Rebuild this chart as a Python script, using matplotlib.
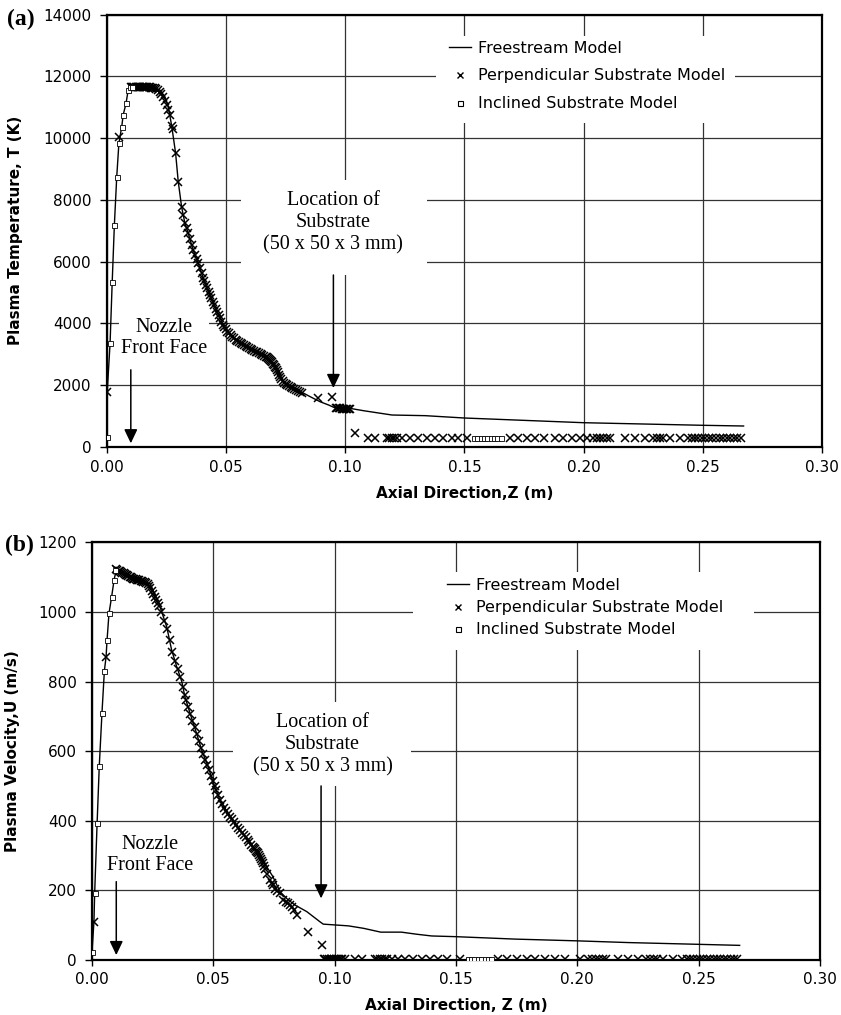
import matplotlib
matplotlib.use('Agg')
import matplotlib.pyplot as plt
from matplotlib.patches import Rectangle
from matplotlib.lines import Line2D

plt.rcParams['font.family'] = 'DejaVu Sans'

# ---------------- panel (a): plasma temperature ----------------
z_free_a = [0.0, 0.0001, 0.0013, 0.0022, 0.0031, 0.0041, 0.0050, 0.0062, 0.0068, 0.0080,
            0.0089, 0.0097, 0.0120, 0.0150, 0.0180, 0.0200, 0.0222, 0.0243, 0.0253, 0.0261,
            0.0272, 0.0288, 0.0299, 0.0313, 0.0327, 0.0341, 0.0355, 0.0369, 0.0383, 0.0397,
            0.0415, 0.0432, 0.0453, 0.0474, 0.0502, 0.0544, 0.0600, 0.0656, 0.0684, 0.0712,
            0.0743, 0.0782, 0.0823, 0.0860, 0.0894, 0.0930, 0.0958, 0.1021, 0.1077, 0.1196,
            0.1335, 0.1500, 0.2000, 0.2500, 0.2671]
T_free_a = [334, 1791, 3359, 5354, 7190, 8755, 9836, 10374, 10753, 11131,
            11563, 11650, 11660, 11660, 11650, 11620, 11563, 11346, 11132, 10860,
            10375, 9512, 8593, 7783, 7245, 6922, 6543, 6219, 5950, 5626,
            5247, 4923, 4544, 4169, 3790, 3466, 3197, 2980, 2818, 2494,
            2073, 1901, 1750, 1600, 1467, 1360, 1263, 1250, 1175, 1036,
            1015, 939, 787, 703, 680]

z_perp_a = [0.0001, 0.0052,
            0.0100, 0.0105, 0.0110, 0.0115, 0.0120, 0.0125, 0.0130, 0.0135, 0.0140, 0.0145,
            0.0150, 0.0155, 0.0160, 0.0165, 0.0170, 0.0175, 0.0180, 0.0185, 0.0190, 0.0195,
            0.0200, 0.0207, 0.0214, 0.0221, 0.0228, 0.0236, 0.0243, 0.0250, 0.0257, 0.0264,
            0.0272, 0.0275, 0.0288, 0.0299, 0.0313, 0.0320, 0.0327, 0.0334, 0.0341, 0.0348,
            0.0355, 0.0362, 0.0369, 0.0376, 0.0383, 0.0390, 0.0397, 0.0403, 0.0409, 0.0415,
            0.0421, 0.0427, 0.0432, 0.0438, 0.0444, 0.0450, 0.0456, 0.0462, 0.0468, 0.0474,
            0.0480, 0.0486, 0.0492, 0.0498, 0.0505, 0.0512, 0.0519, 0.0526, 0.0533, 0.0540,
            0.0547, 0.0554, 0.0561, 0.0568, 0.0575, 0.0582, 0.0589, 0.0596, 0.0603, 0.0610,
            0.0617, 0.0624, 0.0631, 0.0638, 0.0645, 0.0652, 0.0659, 0.0666, 0.0672, 0.0676,
            0.0680, 0.0684, 0.0688, 0.0692, 0.0696, 0.0700, 0.0704, 0.0708, 0.0712, 0.0717,
            0.0722, 0.0727, 0.0732, 0.0738, 0.0744, 0.0750, 0.0757, 0.0764, 0.0771, 0.0778,
            0.0786, 0.0794, 0.0802, 0.0810, 0.0818, 0.0887, 0.0943,
            0.0960, 0.0966, 0.0972, 0.0978, 0.0984, 0.0990, 0.0996, 0.1002, 0.1008, 0.1014,
            0.1020, 0.1041,
            0.1097, 0.1125, 0.1174, 0.1184, 0.1195, 0.1205, 0.1216, 0.1237, 0.1272, 0.1307,
            0.1342, 0.1377, 0.1411, 0.1447, 0.1474, 0.1510, 0.1691, 0.1726, 0.1761, 0.1796,
            0.1835, 0.1880, 0.1915, 0.1950, 0.1985, 0.2013, 0.2041, 0.2055, 0.2069, 0.2083,
            0.2097, 0.2111, 0.2174, 0.2216, 0.2258, 0.2292, 0.2306, 0.2320, 0.2334, 0.2363,
            0.2405, 0.2439, 0.2453, 0.2467, 0.2481, 0.2495, 0.2510, 0.2525, 0.2540, 0.2555,
            0.2570, 0.2585, 0.2600, 0.2615, 0.2630, 0.2645, 0.2660]
T_perp_a = [1791, 10050,
            11650, 11655, 11660, 11660, 11660, 11660, 11660, 11660, 11660, 11660,
            11660, 11660, 11655, 11655, 11650, 11650, 11645, 11640, 11635, 11630,
            11620, 11600, 11560, 11500, 11420, 11330, 11220, 11080, 10930, 10750,
            10380, 10300, 9510, 8590, 7780, 7500, 7250, 7080, 6920, 6730,
            6540, 6380, 6220, 6080, 5950, 5790, 5630, 5470, 5370, 5250,
            5140, 5030, 4920, 4810, 4700, 4600, 4480, 4380, 4270, 4170,
            4060, 3960, 3880, 3810, 3740, 3680, 3620, 3570, 3520, 3480,
            3440, 3400, 3370, 3330, 3300, 3270, 3240, 3210, 3180, 3150,
            3120, 3090, 3070, 3040, 3010, 2990, 2960, 2930, 2900, 2870,
            2840, 2810, 2780, 2740, 2700, 2650, 2600, 2550, 2490, 2420,
            2340, 2260, 2200, 2140, 2080, 2040, 2000, 1960, 1930, 1900,
            1870, 1840, 1800, 1770, 1750, 1577, 1610,
            1260, 1255, 1250, 1250, 1245, 1245, 1240, 1240, 1240, 1235,
            1235, 443,
            300, 300, 300, 300, 300, 300, 300, 300, 300, 300,
            300, 300, 300, 300, 300, 300, 300, 300, 300, 300,
            300, 300, 300, 300, 300, 300, 300, 300, 300, 300,
            300, 300, 300, 300, 300, 300, 300, 300, 300, 300,
            300, 300, 300, 300, 300, 300, 300, 300, 300, 300,
            300, 300, 300, 300, 300, 300, 300]

z_incl_a = [0.0, 0.0013, 0.0022, 0.0031, 0.0041, 0.0050, 0.0062, 0.0068, 0.0080, 0.0089,
            0.0097, 0.0103,
            0.1540, 0.1554, 0.1568, 0.1582, 0.1596, 0.1610, 0.1624, 0.1638, 0.1652]
T_incl_a = [334, 3359, 5354, 7190, 8755, 9836, 10374, 10753, 11131, 11563,
            11650, 11650,
            300, 300, 300, 300, 300, 300, 300, 300, 300]

# ---------------- panel (b): plasma velocity ----------------
z_free_b = [0.0, 0.0008, 0.0011, 0.0021, 0.0030, 0.0041, 0.0051, 0.0058, 0.0062, 0.0070,
            0.0081, 0.0091, 0.0100, 0.0129, 0.0157, 0.0184, 0.0211, 0.0239, 0.0260, 0.0280,
            0.0308, 0.0328, 0.0349, 0.0370, 0.0383, 0.0404, 0.0431, 0.0452, 0.0479, 0.0500,
            0.0527, 0.0569, 0.0610, 0.0665, 0.0692, 0.0720, 0.0745, 0.0775, 0.0805, 0.0836,
            0.0885, 0.0939, 0.0953, 0.1057, 0.1119, 0.1190, 0.1275, 0.1338, 0.1400, 0.1499,
            0.1744, 0.1998, 0.2212, 0.2499, 0.2669]
U_free_b = [24, 110, 192, 393, 558, 709, 831, 871, 919, 996,
            1044, 1092, 1122, 1111, 1101, 1092, 1087, 1082, 1049, 1015,
            957, 891, 843, 800, 756, 709, 651, 603, 555, 508,
            460, 412, 373, 325, 306, 268, 240, 196, 175, 158,
            139, 110, 103, 98, 91, 80, 80, 74, 69, 67,
            60, 55, 50, 45, 42]

z_perp_b = [0.0008, 0.0058,
            0.0100, 0.0105, 0.0110, 0.0115, 0.0120, 0.0125, 0.0130, 0.0135, 0.0140, 0.0145,
            0.0150, 0.0155, 0.0160, 0.0165, 0.0170, 0.0175, 0.0180, 0.0185, 0.0190, 0.0195,
            0.0200, 0.0205, 0.0211, 0.0217, 0.0223, 0.0229, 0.0235, 0.0241, 0.0247, 0.0253,
            0.0259, 0.0265, 0.0271, 0.0277, 0.0285, 0.0297, 0.0309, 0.0320, 0.0331, 0.0342,
            0.0353, 0.0364, 0.0375, 0.0383, 0.0388, 0.0396, 0.0405, 0.0414, 0.0423, 0.0432,
            0.0441, 0.0449, 0.0457, 0.0465, 0.0473, 0.0481, 0.0489, 0.0497, 0.0505, 0.0513,
            0.0521, 0.0529, 0.0537, 0.0545, 0.0553, 0.0561, 0.0569, 0.0577, 0.0585, 0.0593,
            0.0601, 0.0609, 0.0617, 0.0625, 0.0633, 0.0641, 0.0649, 0.0657, 0.0665, 0.0669,
            0.0673, 0.0677, 0.0681, 0.0685, 0.0689, 0.0693, 0.0697, 0.0701, 0.0705, 0.0709,
            0.0713, 0.0720, 0.0733, 0.0740, 0.0747, 0.0755, 0.0762, 0.0775, 0.0788, 0.0798,
            0.0809, 0.0816, 0.0823, 0.0833, 0.0843, 0.0889, 0.0946,
            0.0955, 0.0962, 0.0969, 0.0976, 0.0983, 0.0990, 0.0997, 0.1004, 0.1011, 0.1018,
            0.1025, 0.1032, 0.1042, 0.1084, 0.1111, 0.1166, 0.1176, 0.1186, 0.1196, 0.1206,
            0.1214, 0.1235, 0.1262, 0.1290, 0.1324, 0.1359, 0.1393, 0.1427, 0.1462, 0.1516,
            0.1674, 0.1709, 0.1750, 0.1791, 0.1825, 0.1866, 0.1908, 0.1949, 0.2011, 0.2045,
            0.2060, 0.2075, 0.2090, 0.2105, 0.2120, 0.2169, 0.2210, 0.2251, 0.2285, 0.2300,
            0.2315, 0.2327, 0.2354, 0.2395, 0.2430, 0.2450, 0.2465, 0.2478, 0.2492, 0.2506,
            0.2520, 0.2534, 0.2548, 0.2562, 0.2576, 0.2590, 0.2604, 0.2618, 0.2632, 0.2646,
            0.2660]
U_perp_b = [110, 871,
            1124, 1121, 1119, 1117, 1115, 1113, 1111, 1109, 1107, 1105,
            1103, 1101, 1099, 1098, 1096, 1095, 1094, 1093, 1092, 1091,
            1090, 1089, 1087, 1085, 1083, 1080, 1075, 1068, 1060, 1052,
            1044, 1035, 1025, 1018, 1000, 975, 952, 920, 885, 860,
            835, 812, 785, 760, 748, 728, 707, 688, 668, 649,
            628, 610, 592, 575, 560, 545, 530, 514, 500, 487,
            473, 460, 449, 438, 428, 420, 412, 404, 396, 388,
            380, 373, 366, 359, 352, 345, 338, 331, 325, 322,
            318, 314, 310, 306, 302, 297, 291, 285, 278, 270,
            262, 248, 230, 222, 215, 205, 198, 192, 172, 168,
            163, 158, 153, 143, 129, 81, 43,
            2, 2, 2, 2, 2, 2, 2, 2, 2, 2,
            2, 2, 2, 2, 2, 2, 2, 2, 2, 2,
            2, 2, 2, 2, 2, 2, 2, 2, 2, 2,
            2, 2, 2, 2, 2, 2, 2, 2, 2, 2,
            2, 2, 2, 2, 2, 2, 2, 2, 2, 2,
            2, 2, 2, 2, 2, 2, 2, 2, 2, 2,
            2, 2, 2, 2, 2, 2, 2, 2, 2, 2,
            2]

z_incl_b = [0.0, 0.0011, 0.0021, 0.0030, 0.0041, 0.0051, 0.0062, 0.0070, 0.0081, 0.0091,
            0.0096,
            0.1548, 0.1562, 0.1576, 0.1590, 0.1604, 0.1618, 0.1632, 0.1646]
U_incl_b = [24, 192, 393, 558, 709, 831, 919, 996, 1044, 1092,
            1120,
            2, 2, 2, 2, 2, 2, 2, 2]

x_ticks = [0.00, 0.05, 0.10, 0.15, 0.20, 0.25, 0.30]
labels = ['Freestream Model', 'Perpendicular Substrate Model', 'Inclined Substrate Model']
serif = 'Liberation Serif'


def draw_panel(ax, z_free, y_free, z_perp, y_perp, z_incl, y_incl, ymax, ystep):
    ax.plot(z_free, y_free, '-', color='black', lw=1.0, zorder=3)
    ax.plot(z_perp, y_perp, 'x', color='black', ms=5.5, mew=1.1, zorder=4)
    ax.plot(z_incl, y_incl, 's', ms=3.6, mfc='white', mec='black', mew=0.6, zorder=5)
    ax.set_xlim(0, 0.30)
    ax.set_ylim(0, ymax)
    ax.set_xticks(x_ticks)
    ax.set_xticklabels(['%.2f' % v for v in x_ticks])
    ax.set_yticks(range(0, ymax + 1, ystep))
    ax.set_axisbelow(True)
    ax.grid(True, color='0.2', lw=0.9)
    ax.tick_params(axis='y', length=5, width=1, pad=6, labelsize=11)
    ax.tick_params(axis='x', length=4, width=1, pad=5, labelsize=11)
    for s in ax.spines.values():
        s.set_linewidth(1.6)


def arrow(ax, x, y0, y1):
    ax.annotate('', xy=(x, y1), xytext=(x, y0),
                arrowprops=dict(arrowstyle='-|>,head_length=0.42,head_width=0.2',
                                color='black', lw=1.1, mutation_scale=20,
                                shrinkA=0, shrinkB=0), zorder=6)


def white_box(ax, x0, x1, y0, y1):
    ax.add_patch(Rectangle((x0, y0), x1 - x0, y1 - y0, transform=ax.transAxes,
                           facecolor='white', edgecolor='none', zorder=1))


def legend(ax, x, y, spacing):
    handles = [Line2D([], [], color='black', lw=1.0),
               Line2D([], [], ls='none', marker='x', color='black', ms=5, mew=1.0),
               Line2D([], [], ls='none', marker='s', ms=3.6, mfc='white', mec='black', mew=0.8)]
    leg = ax.legend(handles, labels, loc='upper left', bbox_to_anchor=(x, y),
                    frameon=False, fontsize=11.5, handlelength=1.4, handletextpad=0.4,
                    borderpad=0, borderaxespad=0, labelspacing=spacing)
    leg.set_zorder(7)


fig = plt.figure(figsize=(8.41, 10.15), dpi=100)

# (a)
ax1 = fig.add_axes([0.1272, 0.5596, 0.8502, 0.4259])
draw_panel(ax1, z_free_a, T_free_a, z_perp_a, T_perp_a, z_incl_a, T_incl_a, 14000, 2000)
ax1.set_ylabel('Plasma Temperature, T (K)', fontsize=11, fontweight='bold')
ax1.set_xlabel('Axial Direction,Z (m)', fontsize=11, fontweight='bold')
ax1.yaxis.set_label_coords(-0.1175, 0.5)
ax1.xaxis.set_label_coords(0.5, -0.090)
white_box(ax1, 0.460, 0.878, 0.7495, 0.9507)
white_box(ax1, 0.187, 0.4476, 0.3979, 0.6176)
legend(ax1, 0.478, 0.940, 0.8)
ax1.text(0.095, 7255, 'Location of\nSubstrate\n(50 x 50 x 3 mm)', ha='center', va='center',
         family=serif, fontsize=14.5, linespacing=1.22, zorder=6)
ax1.text(0.024, 3530, 'Nozzle\nFront Face', ha='center', va='center', family=serif,
         fontsize=14.5, linespacing=1.15, zorder=6,
         bbox=dict(boxstyle='square,pad=0.1', fc='white', ec='none'))
arrow(ax1, 0.010, 2500, 120)
arrow(ax1, 0.095, 5570, 1910)
fig.text(0.008, 0.981, '(a)', family=serif, fontsize=17, fontweight='bold', va='center')

# (b)
ax2 = fig.add_axes([0.1094, 0.0542, 0.8656, 0.4115])
draw_panel(ax2, z_free_b, U_free_b, z_perp_b, U_perp_b, z_incl_b, U_incl_b, 1200, 200)
ax2.set_ylabel('Plasma Velocity,U (m/s)', fontsize=11, fontweight='bold')
ax2.set_xlabel('Axial Direction, Z (m)', fontsize=11, fontweight='bold')
ax2.yaxis.set_label_coords(-0.0989, 0.5)
ax2.xaxis.set_label_coords(0.5, -0.091)
white_box(ax2, 0.441, 0.909, 0.742, 0.9296)
white_box(ax2, 0.1933, 0.4382, 0.4166, 0.6184)
legend(ax2, 0.4876, 0.9145, 0.45)
ax2.text(0.095, 618, 'Location of\nSubstrate\n(50 x 50 x 3 mm)', ha='center', va='center',
         family=serif, fontsize=14.5, linespacing=1.22, zorder=6)
ax2.text(0.024, 302, 'Nozzle\nFront Face', ha='center', va='center', family=serif,
         fontsize=14.5, linespacing=1.15, zorder=6,
         bbox=dict(boxstyle='square,pad=0.1', fc='white', ec='none'))
arrow(ax2, 0.010, 225, 14)
arrow(ax2, 0.0944, 500, 177)
fig.text(0.006, 0.463, '(b)', family=serif, fontsize=17, fontweight='bold', va='center')

fig.savefig('out.png', dpi=100)
